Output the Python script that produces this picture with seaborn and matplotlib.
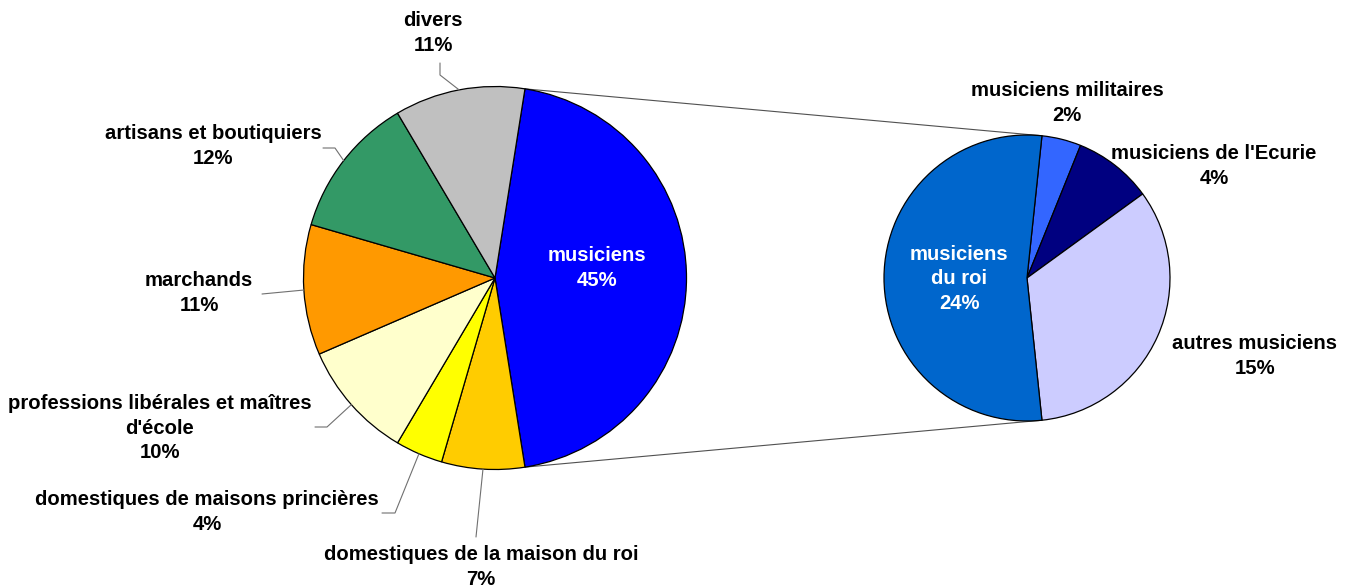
import numpy as np
import matplotlib
matplotlib.use("Agg")
import matplotlib.pyplot as plt
import seaborn as sns

sns.set_theme(style="white")
plt.rcParams['font.family'] = ['Liberation Sans', 'DejaVu Sans']

# ---- data ----
main_labels = ["musiciens", "domestiques de la maison du roi", "domestiques de maisons princières",
               "professions libérales et maîtres\nd'école", "marchands", "artisans et boutiquiers", "divers"]
main_values = [45, 7, 4, 10, 11, 12, 11]
main_colors = ["#0000FF", "#FFCC00", "#FFFF00", "#FFFFCC", "#FF9900", "#339966", "#C0C0C0"]

sub_labels = ["musiciens militaires", "musiciens de l'Ecurie", "autres musiciens", "musiciens\ndu roi"]
sub_values = [2, 4, 15, 24]
sub_colors = ["#3366FF", "#000080", "#CCCCFF", "#0066CC"]

W, H = 1351, 587
fig = plt.figure(figsize=(W / 100, H / 100), dpi=100)
ax = fig.add_axes([0, 0, 1, 1])

def Y(y):
    return H - y

c1, r1 = (495, Y(278)), 191.5
c2, r2 = (1027, Y(278)), 143

start1 = 360 * main_values[0] / sum(main_values) / 2
wedges1, _ = ax.pie(main_values, colors=main_colors, startangle=start1, counterclock=False,
                    center=c1, radius=r1, frame=True,
                    wedgeprops=dict(edgecolor='black', linewidth=0.9))
sub_total = sum(sub_values)
start2 = 360 * (sub_total - sub_values[-1]) / sub_total / 2
wedges2, _ = ax.pie(sub_values, colors=sub_colors, startangle=start2, counterclock=False,
                    center=c2, radius=r2, frame=True,
                    wedgeprops=dict(edgecolor='black', linewidth=0.9))
ax.set_xlim(0, W)
ax.set_ylim(0, H)
ax.set_aspect('equal')
ax.axis('off')

def pt(c, r, ang):
    a = np.deg2rad(ang)
    return c[0] + r * np.cos(a), c[1] + r * np.sin(a)

# connector lines between pies
w0 = wedges1[0]
wr = wedges2[-1]
for a1, a2 in [(w0.theta2, wr.theta1), (w0.theta1, wr.theta2)]:
    p1 = pt(c1, r1, a1)
    p2 = pt(c2, r2, a2)
    ax.plot([p1[0], p2[0]], [p1[1], p2[1]], color='#505050', lw=0.8, zorder=0.5)

fs = 14.6
tkw = dict(ha='center', va='center', fontsize=fs, fontweight='bold', linespacing=1.36)

# main pie labels: (text block center x, center y, leader start points)
main_layout = [
    (597, 268, None),
    (481, 567, [(476, 537)]),
    (207, 512, [(382, 513), (395, 513)]),
    (160, 428, [(315, 427), (327, 427)]),
    (199, 293, [(262, 294)]),
    (213, 146, [(323, 148), (335, 148)]),
    (433, 33, [(440, 63), (440, 75)]),
]
for i, (lab, val, (tx, ty, lead)) in enumerate(zip(main_labels, main_values, main_layout)):
    color = 'white' if i == 0 else 'black'
    ax.text(tx, Y(ty), f"{lab}\n{val}%", color=color, **tkw)
    if lead:
        w = wedges1[i]
        mid = (w.theta1 + w.theta2) / 2
        pe = pt(c1, r1, mid)
        xs = [p[0] for p in lead] + [pe[0]]
        ys = [Y(p[1]) for p in lead] + [pe[1]]
        ax.plot(xs, ys, color='#707070', lw=0.8)

sub_layout = [(1067, 103), (1214, 166), (1255, 356), (959, 279)]
for i, (lab, val, (tx, ty)) in enumerate(zip(sub_labels, sub_values, sub_layout)):
    color = 'white' if i == 3 else 'black'
    ax.text(tx, Y(ty), f"{lab}\n{val}%", color=color, **tkw)

fig.savefig("out.png", dpi=100)
